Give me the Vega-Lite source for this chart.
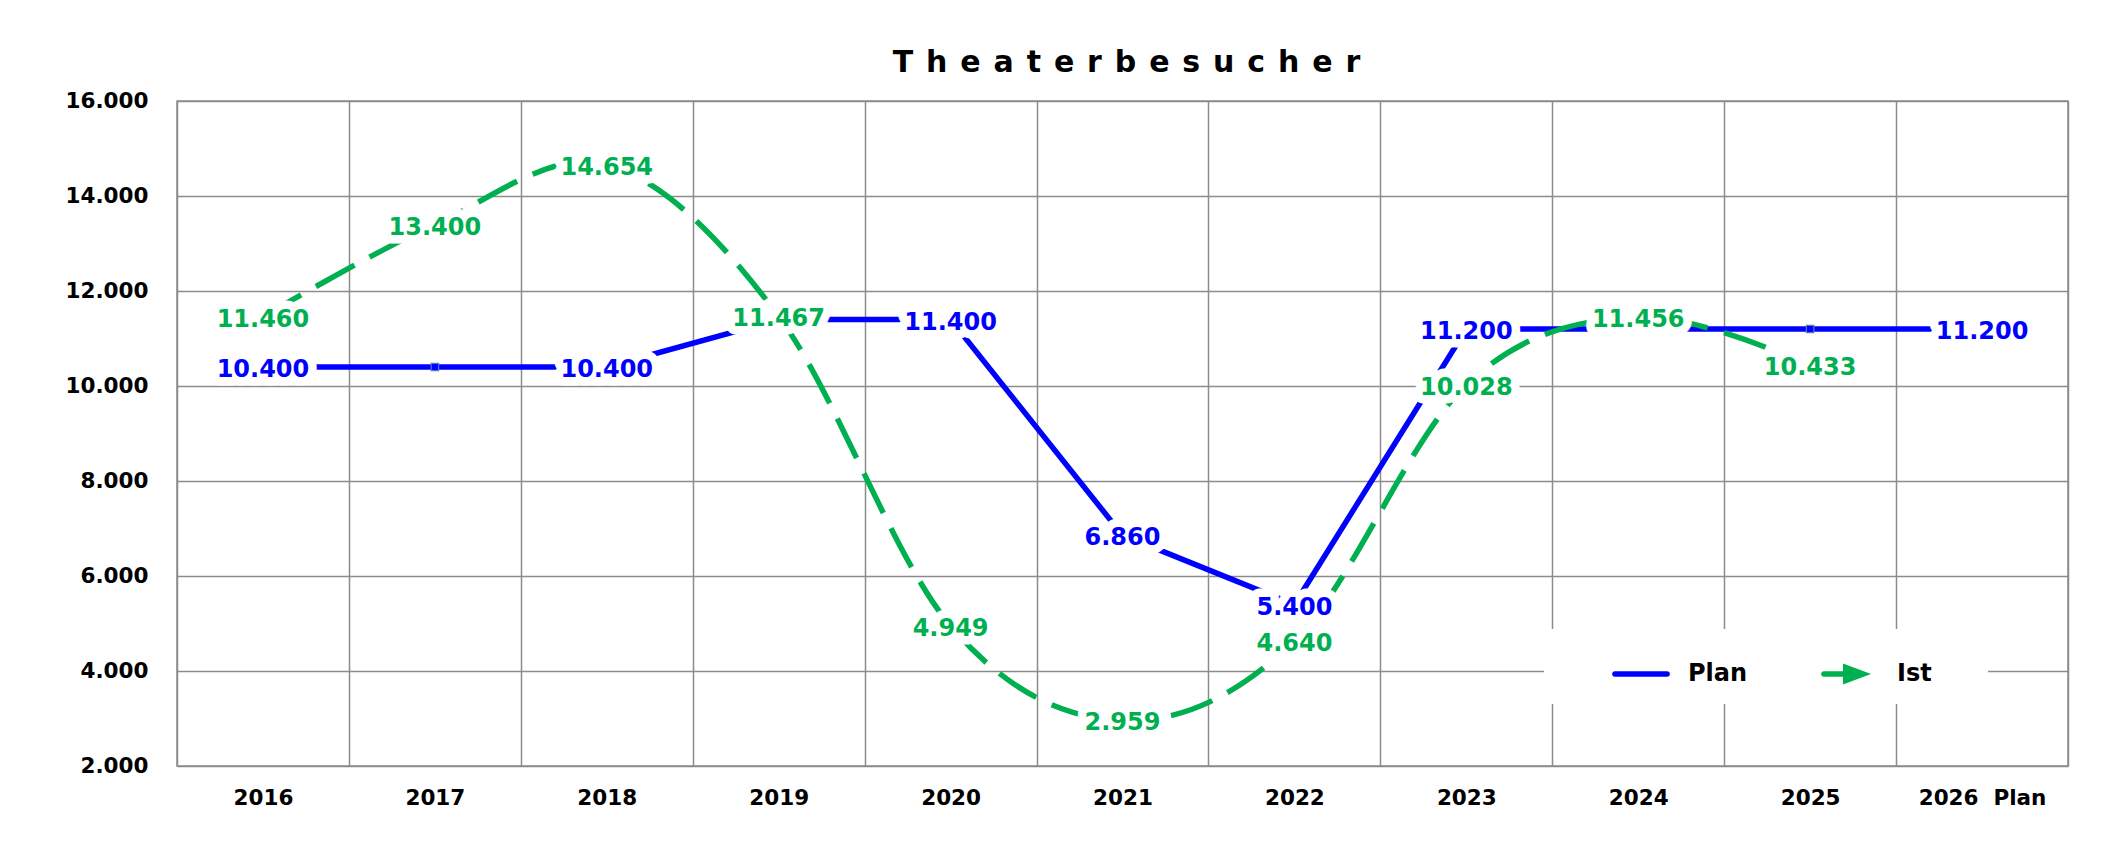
{
  "$schema": "https://vega.github.io/schema/vega-lite/v6.json",
  "width": 1891,
  "height": 665,
  "autosize": {"type": "none"},
  "padding": {"left": 177, "top": 101, "right": 44, "bottom": 83},
  "background": "white",
  "config": {
    "locale": {"number": {"decimal": ",", "thousands": ".", "grouping": [3], "currency": ["", " €"]}},
    "font": "DejaVu Sans",
    "view": {"stroke": "#8c8c8c", "strokeWidth": 1.5}
  },
  "title": {
    "text": "T\u2004\u200ah\u2004\u200ae\u2004\u200aa\u2004\u200at\u2004\u200ae\u2004\u200ar\u2004\u200ab\u2004\u200ae\u2004\u200as\u2004\u200au\u2004\u200ac\u2004\u200ah\u2004\u200ae\u2004\u200ar",
    "font": "DejaVu Sans",
    "fontSize": 30,
    "fontWeight": "bold",
    "color": "black",
    "anchor": "middle",
    "frame": "group",
    "baseline": "alphabetic",
    "offset": 31,
    "dx": 4,
    "dy": 43
  },
  "data": {
    "values": [
      {"year": "2016", "series": "Plan", "value": 10400, "label": true},
      {"year": "2017", "series": "Plan", "value": 10400, "label": false},
      {"year": "2018", "series": "Plan", "value": 10400, "label": true},
      {"year": "2019", "series": "Plan", "value": 11400, "label": false},
      {"year": "2020", "series": "Plan", "value": 11400, "label": true},
      {"year": "2021", "series": "Plan", "value": 6860, "label": true},
      {"year": "2022", "series": "Plan", "value": 5400, "label": true},
      {"year": "2023", "series": "Plan", "value": 11200, "label": true},
      {"year": "2024", "series": "Plan", "value": 11200, "label": false},
      {"year": "2025", "series": "Plan", "value": 11200, "label": false},
      {"year": "2026\u00a0\u00a0Plan", "series": "Plan", "value": 11200, "label": true},
      {"year": "2016", "series": "Ist", "value": 11460, "label": true},
      {"year": "2017", "series": "Ist", "value": 13400, "label": true},
      {"year": "2018", "series": "Ist", "value": 14654, "label": true},
      {"year": "2019", "series": "Ist", "value": 11467, "label": true},
      {"year": "2020", "series": "Ist", "value": 4949, "label": true},
      {"year": "2021", "series": "Ist", "value": 2959, "label": true},
      {"year": "2022", "series": "Ist", "value": 4640, "label": true},
      {"year": "2023", "series": "Ist", "value": 10028, "label": true},
      {"year": "2024", "series": "Ist", "value": 11456, "label": true},
      {"year": "2025", "series": "Ist", "value": 10433, "label": true}
    ]
  },
  "encoding": {
    "x": {
      "field": "year",
      "type": "nominal",
      "sort": null,
      "scale": {"paddingInner": 0, "paddingOuter": 0},
      "axis": {
        "title": null,
        "labelAngle": 0,
        "tickBand": "extent",
        "grid": true,
        "gridColor": "#8c8c8c",
        "gridWidth": 1.5,
        "ticks": false,
        "domain": false,
        "labelFont": "DejaVu Sans",
        "labelFontWeight": "bold",
        "labelFontSize": 21.5,
        "labelColor": "black",
        "labelPadding": 21
      }
    },
    "y": {
      "field": "value",
      "type": "quantitative",
      "scale": {"domain": [2000, 16000], "nice": false, "zero": false},
      "axis": {
        "title": null,
        "values": [2000, 4000, 6000, 8000, 10000, 12000, 14000, 16000],
        "format": ",.0f",
        "grid": true,
        "gridColor": "#8c8c8c",
        "gridWidth": 1.5,
        "ticks": false,
        "domain": false,
        "labelFont": "DejaVu Sans",
        "labelFontWeight": "bold",
        "labelFontSize": 21.5,
        "labelColor": "black",
        "labelPadding": 29
      }
    }
  },
  "layer": [
    {
      "transform": [{"filter": "datum.series === 'Plan'"}],
      "mark": {"type": "line", "strokeWidth": 5.5, "strokeCap": "butt"},
      "encoding": {
        "color": {
          "field": "series",
          "type": "nominal",
          "sort": ["Plan", "Ist"],
          "scale": {"domain": ["Plan", "Ist"], "range": ["#0000FF", "#00B050"]},
          "legend": {
            "orient": "none",
            "legendX": 1367,
            "legendY": 528,
            "direction": "horizontal",
            "title": "\u00a0",
            "titleOrient": "left",
            "titleFontSize": 1,
            "titlePadding": 52,
            "fillColor": "white",
            "strokeColor": null,
            "padding": 18,
            "symbolSize": 2916,
            "labelFont": "DejaVu Sans",
            "labelFontWeight": "bold",
            "labelFontSize": 24,
            "labelColor": "black",
            "labelOffset": 20,
            "labelLimit": 400,
            "columnPadding": 73,
            "labelExpr": "datum.label === 'Ist' ? 'Ist\u2800\u2800' : datum.label",
            "encode": {
              "symbols": {
                "update": {
                  "shape": {"signal": "datum.value === 'Plan' ? 'M-0.97,-0.1H0.97A0.1,0.1,0,0,1,0.97,0.1H-0.97A0.1,0.1,0,0,1,-0.97,-0.1Z' : 'M-0.97,-0.1H-0.26V-0.39L0.78,0L-0.26,0.39V0.1H-0.97A0.1,0.1,0,0,1,-0.97,-0.1Z'"},
                  "fill": {"signal": "datum.value === 'Plan' ? '#0000FF' : '#00B050'"},
                  "fillOpacity": {"value": 1},
                  "opacity": {"value": 1},
                  "strokeWidth": {"value": 0},
                  "strokeDash": {"value": []}
                }
              }
            }
          }
        }
      }
    },
    {
      "transform": [{"filter": "datum.series === 'Ist'"}],
      "mark": {"type": "line", "strokeWidth": 5.5, "interpolate": "cardinal", "strokeDash": [44, 17], "strokeCap": "butt"},
      "encoding": {
        "color": {"field": "series", "type": "nominal", "sort": ["Plan", "Ist"], "scale": {"domain": ["Plan", "Ist"], "range": ["#0000FF", "#00B050"]}}
      }
    },
    {
      "transform": [{"filter": "datum.series === 'Plan'"}],
      "mark": {"type": "point", "shape": "square", "filled": true, "size": 55, "fill": "#0000FF", "stroke": "#4F81BD", "strokeWidth": 1.2, "opacity": 1}
    },
    {
      "transform": [{"filter": "datum.series === 'Plan' && datum.label"}],
      "mark": {"type": "text", "font": "DejaVu Sans", "fontWeight": "bold", "fontSize": 24, "dy": 3, "fill": "white", "stroke": "white", "strokeWidth": 17, "strokeJoin": "round"},
      "encoding": {"text": {"field": "value", "type": "quantitative", "format": ",.0f"}}
    },
    {
      "transform": [{"filter": "datum.series === 'Plan' && datum.label"}],
      "mark": {"type": "text", "font": "DejaVu Sans", "fontWeight": "bold", "fontSize": 24, "dy": 3, "fill": "#0000FF"},
      "encoding": {"text": {"field": "value", "type": "quantitative", "format": ",.0f"}}
    },
    {
      "transform": [{"filter": "datum.series === 'Ist' && datum.label"}],
      "mark": {"type": "text", "font": "DejaVu Sans", "fontWeight": "bold", "fontSize": 24, "dy": 3, "fill": "white", "stroke": "white", "strokeWidth": 17, "strokeJoin": "round"},
      "encoding": {"text": {"field": "value", "type": "quantitative", "format": ",.0f"}}
    },
    {
      "transform": [{"filter": "datum.series === 'Ist' && datum.label"}],
      "mark": {"type": "text", "font": "DejaVu Sans", "fontWeight": "bold", "fontSize": 24, "dy": 3, "fill": "#00B050"},
      "encoding": {"text": {"field": "value", "type": "quantitative", "format": ",.0f"}}
    }
  ]
}
